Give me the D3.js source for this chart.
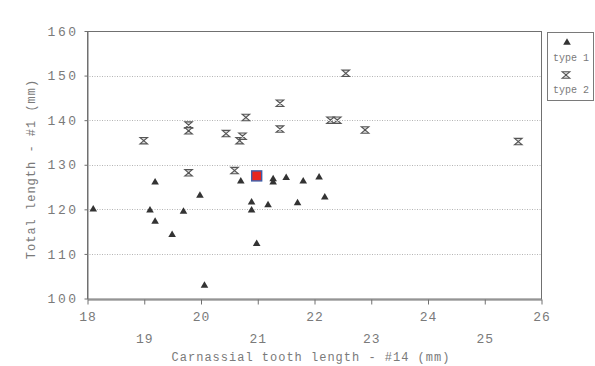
<!DOCTYPE html>
<html>
<head>
<meta charset="utf-8">
<script src="https://cdn.jsdelivr.net/npm/d3@7"></script>
<style>
  html, body { margin: 0; padding: 0; background: #fff; }
  svg { display: block; }
  text { font-family: "Liberation Mono", "DejaVu Sans Mono", monospace; fill: #7a7a7a; }
</style>
</head>
<body>
<svg id="chart" width="595" height="366"></svg>
<script>
// Carnassial tooth length (#14) vs total length (#1), in mm
const type1X = [18.11, 19.20, 19.11, 19.20, 19.50, 19.70, 19.99, 20.07, 20.71, 20.90,
                20.90, 20.99, 21.19, 21.28, 21.28, 21.51, 21.71, 21.81, 22.09, 22.19];
const type1Y = [120.1, 126.2, 119.9, 117.4, 114.4, 119.6, 123.2, 103.0, 126.4, 121.7,
                119.9, 112.4, 121.1, 126.9, 126.2, 127.2, 121.5, 126.4, 127.3, 122.8];

const type2X = [19.00, 19.79, 19.79, 19.79, 20.45, 20.60, 20.69, 20.74, 20.80, 21.40,
                21.40, 22.29, 22.41, 22.56, 22.90, 25.60];
const type2Y = [135.4, 138.9, 137.6, 128.2, 137.0, 128.7, 135.4, 136.4, 140.6, 143.8,
                138.0, 140.0, 140.0, 150.5, 137.8, 135.2];

// single marked specimen
const markedX = [20.99];
const markedY = [127.5];

const xTicks = [18, 19, 20, 21, 22, 23, 24, 25, 26];
const yTicks = [100, 110, 120, 130, 140, 150, 160];
const gridValues = [110, 120, 130, 140, 150];
const legendLabels = ["type 1", "type 2"];
const xTitle = "Carnassial tooth length - #14 (mm)";
const yTitle = "Total length - #1 (mm)";

const svg = d3.select("#chart");
const plot = { left: 87, right: 541, top: 31, bottom: 298.5 };

const x = d3.scaleLinear().domain([18, 26]).range([plot.left, plot.right]);
const y = d3.scaleLinear().domain([100, 160]).range([plot.bottom, plot.top]);

// dotted horizontal gridlines
svg.append("g").selectAll("line").data(gridValues).join("line")
  .attr("x1", plot.left).attr("x2", plot.right)
  .attr("y1", d => Math.round(y(d)) + 0.5).attr("y2", d => Math.round(y(d)) + 0.5)
  .attr("stroke", "#b4b4b4").attr("stroke-width", 1)
  .attr("stroke-dasharray", "1,1.5");

// plot frame
svg.append("rect")
  .attr("x", plot.left + 0.5).attr("y", plot.top + 0.5)
  .attr("width", plot.right - plot.left).attr("height", plot.bottom - plot.top)
  .attr("fill", "none").attr("stroke", "#707070").attr("stroke-width", 1);

// x axis: labels alternate between two rows
const xAxis = svg.append("g")
  .attr("transform", `translate(0.5,${Math.round(plot.bottom) + 0.5})`)
  .call(d3.axisBottom(x).tickValues(xTicks).tickSize(5).tickSizeOuter(0).tickFormat(d3.format("d")));
xAxis.select(".domain").attr("stroke", "#707070");
xAxis.selectAll(".tick line").attr("stroke", "#707070");
xAxis.selectAll(".tick text")
  .attr("y", (d, i) => i % 2 === 0 ? 12 : 34)
  .attr("dy", "0.71em")
  .attr("font-size", 13).style("letter-spacing", "1px")
  .style("font-family", "'Liberation Mono', monospace").attr("fill", "#808080");

// y axis
const yAxis = svg.append("g")
  .attr("transform", `translate(${plot.left + 0.5},0)`)
  .call(d3.axisLeft(y).tickValues(yTicks).tickSize(3).tickSizeOuter(0).tickPadding(6).tickFormat(d3.format("d")));
yAxis.select(".domain").attr("stroke", "#707070");
yAxis.selectAll(".tick line").attr("stroke", "#707070");
yAxis.selectAll(".tick text")
  .attr("font-size", 13).style("letter-spacing", "2.5px")
  .style("font-family", "'Liberation Mono', monospace").attr("fill", "#808080");

// axis titles
svg.append("text")
  .attr("x", 311).attr("y", 361)
  .attr("text-anchor", "middle").attr("font-size", 12).style("letter-spacing", "1px")
  .text(xTitle);
svg.append("text")
  .attr("transform", "translate(35,169) rotate(-90)")
  .attr("text-anchor", "middle").attr("font-size", 12).style("letter-spacing", "1px")
  .text(yTitle);

// marker shapes
const triPath = "M0,-3.8L3.8,2.7L-3.8,2.7Z";
const hourglassPath = "M-3.8,-3.2H3.8L-3.8,3.2H3.8Z";

const type1 = type1X.map((v, i) => ({ x: v, y: type1Y[i] }));
const type2 = type2X.map((v, i) => ({ x: v, y: type2Y[i] }));
const marked = markedX.map((v, i) => ({ x: v, y: markedY[i] }));

svg.append("g").selectAll("path").data(type2).join("path")
  .attr("d", hourglassPath)
  .attr("transform", d => `translate(${x(d.x)},${y(d.y)})`)
  .attr("fill", "#dcdcdc").attr("stroke", "#555").attr("stroke-width", 1.1);

svg.append("g").selectAll("path").data(type1).join("path")
  .attr("d", triPath)
  .attr("transform", d => `translate(${x(d.x)},${y(d.y)})`)
  .attr("fill", "#333");

svg.append("g").selectAll("rect").data(marked).join("rect")
  .attr("x", d => x(d.x) - 5).attr("y", d => y(d.y) - 5)
  .attr("width", 10).attr("height", 10)
  .attr("fill", "#e8251f").attr("stroke", "#3f5da8").attr("stroke-width", 1.4);

// legend
const legend = svg.append("g");
legend.append("rect")
  .attr("x", 547.5).attr("y", 32.5).attr("width", 46).attr("height", 68)
  .attr("fill", "#fff").attr("stroke", "#7a7a7a").attr("stroke-width", 1);
legend.append("path").attr("d", triPath)
  .attr("transform", "translate(567,42)").attr("fill", "#333");
legend.append("path").attr("d", hourglassPath)
  .attr("transform", "translate(566,75)")
  .attr("fill", "#dcdcdc").attr("stroke", "#555").attr("stroke-width", 1.1);
legend.selectAll("text.lab").data(legendLabels).join("text")
  .attr("class", "lab")
  .attr("x", 571).attr("y", (d, i) => i === 0 ? 61 : 93)
  .attr("text-anchor", "middle").attr("font-size", 10)
  .text(d => d);
</script>
</body>
</html>
